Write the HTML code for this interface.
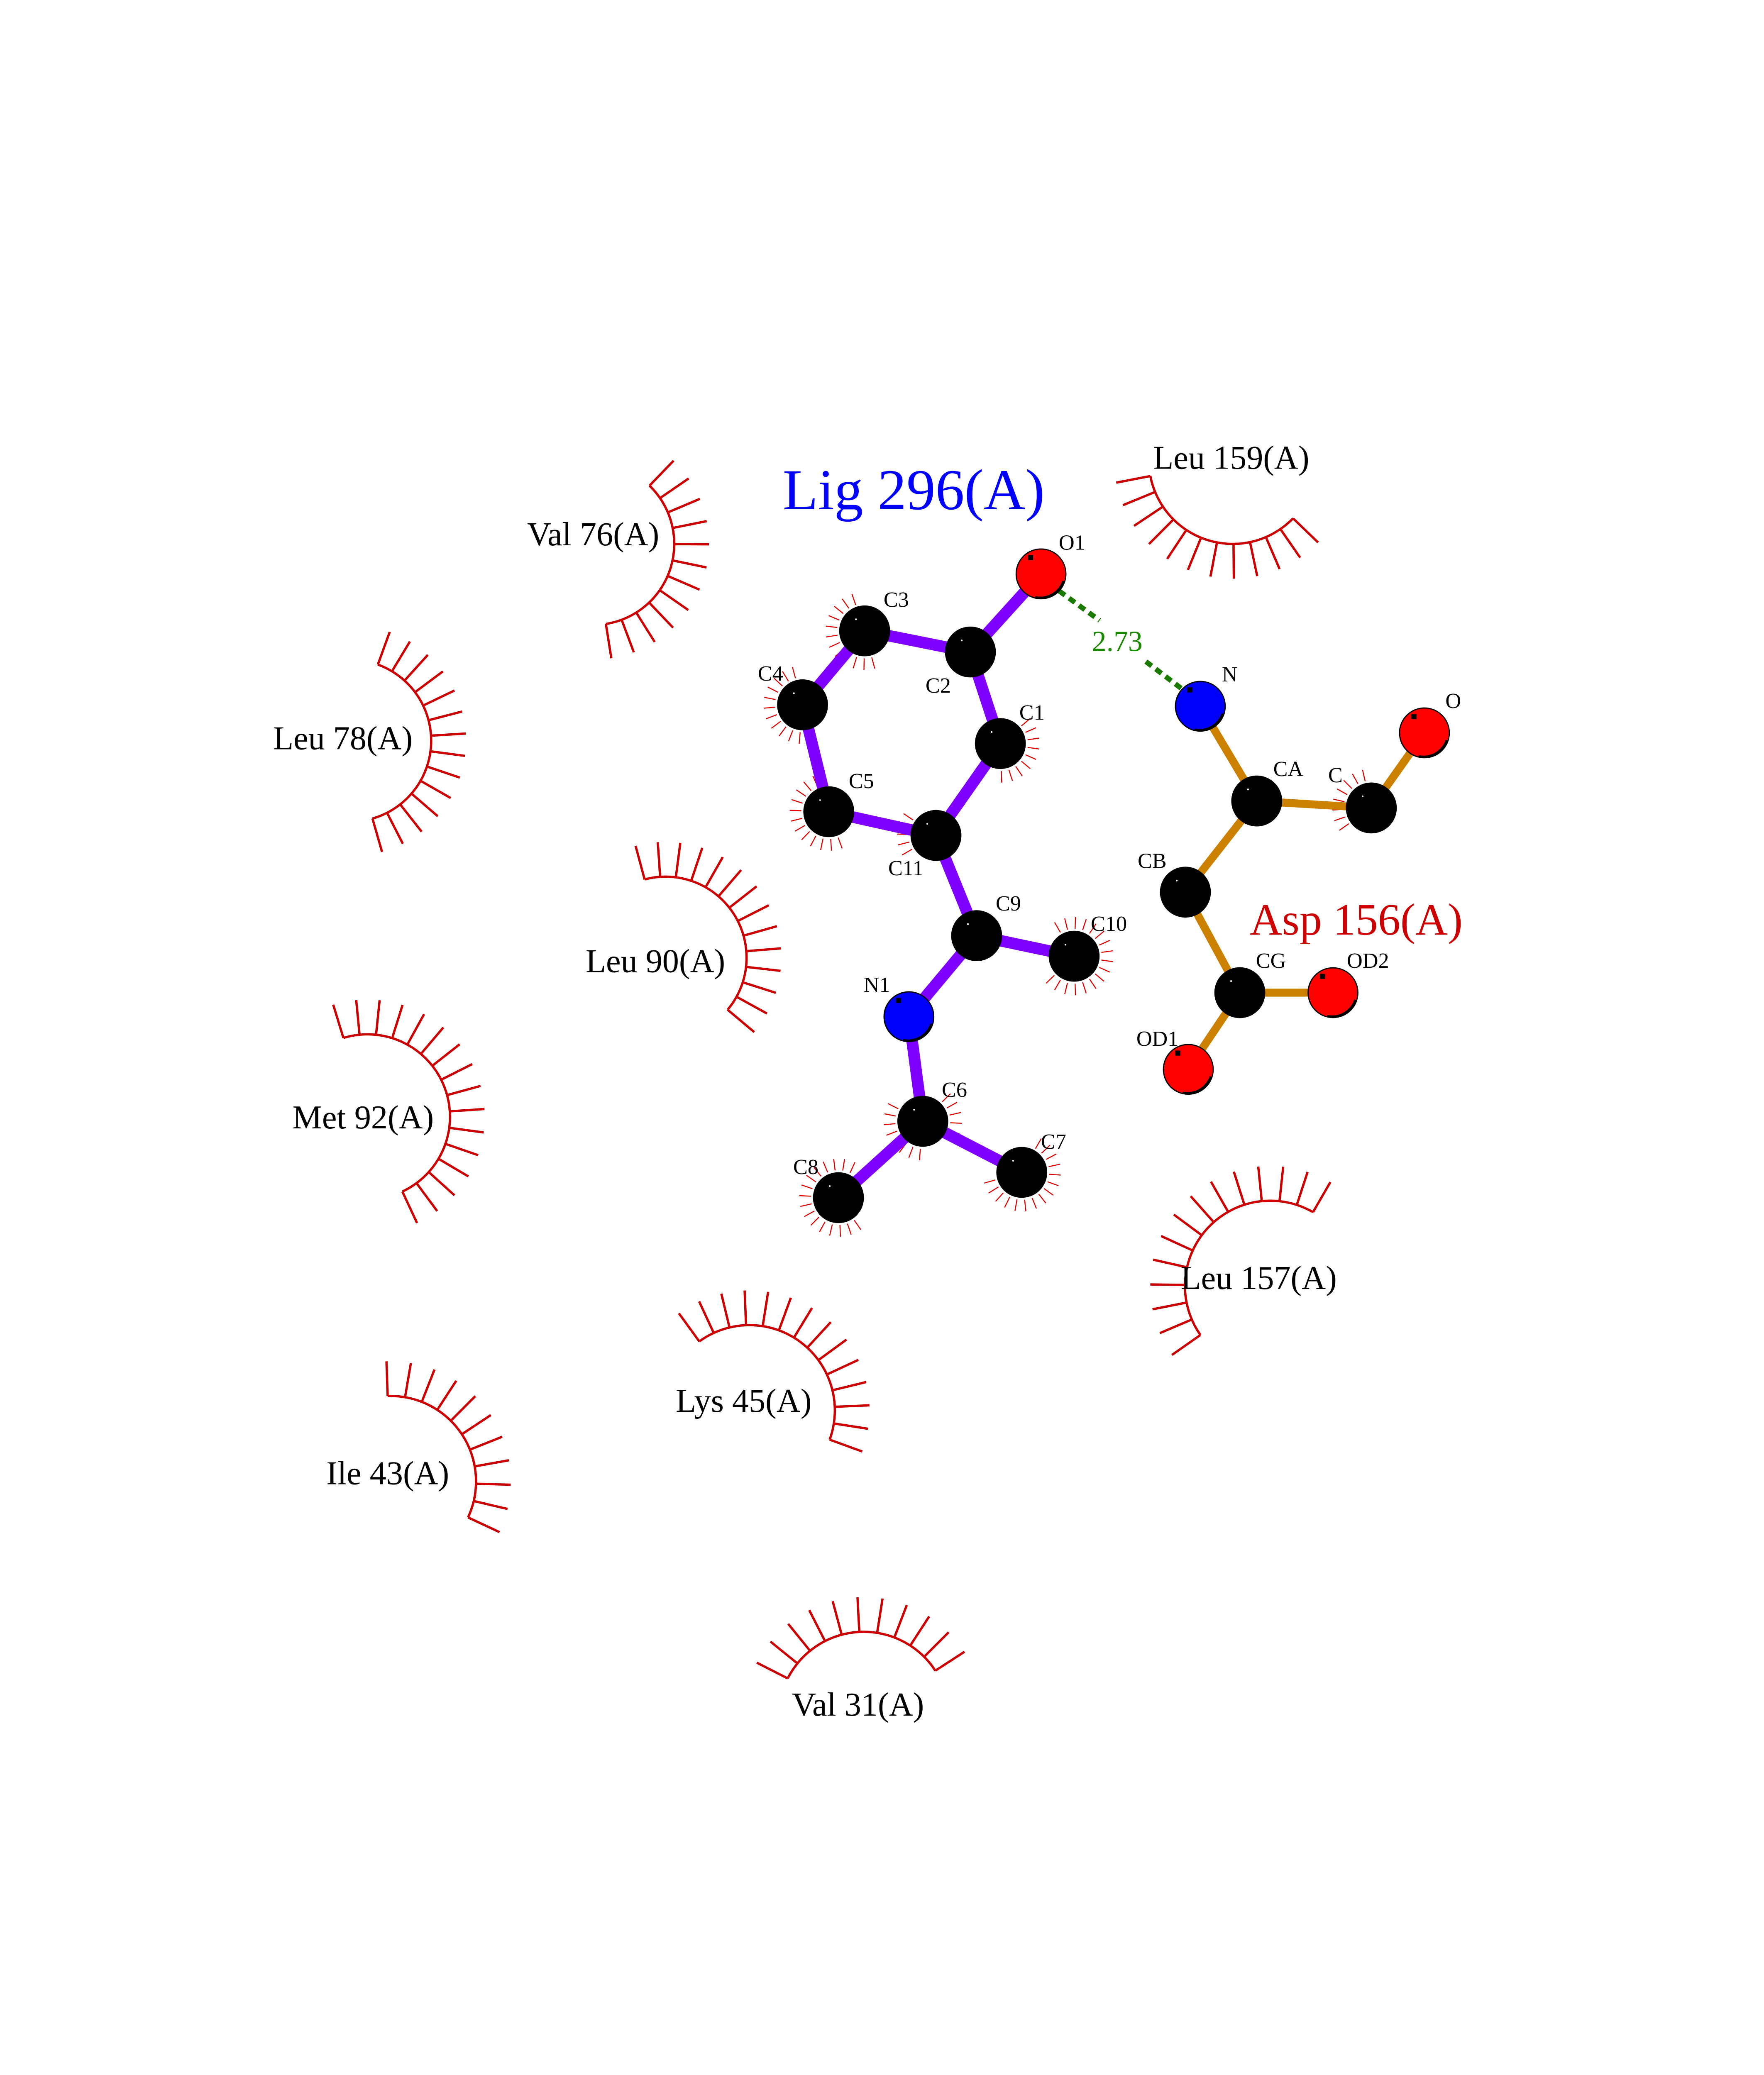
<!DOCTYPE html>
<html><head><meta charset="utf-8">
<style>
html,body{margin:0;padding:0;background:#fff;width:4250px;height:5500px;overflow:hidden;}
svg{display:block;position:absolute;left:0;top:0;}
text{font-family:"Liberation Serif",serif;}
</style></head>
<body>
<svg id="s" xmlns="http://www.w3.org/2000/svg" width="4250" height="5500" viewBox="0 0 1219.2 1577.8">
<rect width="1219.2" height="1577.8" fill="#fff"/>
<g id="arcs" stroke="#cc0000" stroke-width="1.6" fill="none"></g>
<g id="aspokes" stroke="#e00000" stroke-width="0.7" fill="none"></g>
<g id="bonds" stroke-linecap="butt">
<g stroke="#8000ff" stroke-width="8">
<line x1="719.5" y1="396.7" x2="670.7" y2="450.7"/>
<line x1="670.7" y1="450.7" x2="597.6" y2="436.1"/>
<line x1="670.7" y1="450.7" x2="691.4" y2="514"/>
<line x1="597.6" y1="436.1" x2="554.7" y2="487.2"/>
<line x1="554.7" y1="487.2" x2="572.8" y2="561.1"/>
<line x1="572.8" y1="561.1" x2="646.9" y2="577.5"/>
<line x1="691.4" y1="514" x2="646.9" y2="577.5"/>
<line x1="646.9" y1="577.5" x2="675" y2="646.8"/>
<line x1="675" y1="646.8" x2="742.4" y2="661"/>
<line x1="675" y1="646.8" x2="628.2" y2="702.8"/>
<line x1="628.2" y1="702.8" x2="637.8" y2="775.1"/>
<line x1="637.8" y1="775.1" x2="706.2" y2="810.4"/>
<line x1="637.8" y1="775.1" x2="579.5" y2="827.9"/>
</g>
<g stroke="#cc8000" stroke-width="5.5">
<line x1="829.6" y1="488.2" x2="868.6" y2="553.7"/>
<line x1="868.6" y1="553.7" x2="947.8" y2="558.5"/>
<line x1="947.8" y1="558.5" x2="984.5" y2="506.6"/>
<line x1="868.6" y1="553.7" x2="819.3" y2="616.7"/>
<line x1="819.3" y1="616.7" x2="856.9" y2="686.2"/>
<line x1="856.9" y1="686.2" x2="921.3" y2="686.2"/>
<line x1="856.9" y1="686.2" x2="821.3" y2="739.2"/>
</g>
<g stroke="#1a7a00" stroke-width="3.5" stroke-dasharray="5,3.5">
<line x1="732" y1="408.5" x2="760" y2="428.9"/>
<line x1="792" y1="457.3" x2="818.7" y2="477.6"/>
</g>
</g>
<g id="atoms" stroke="#000" stroke-width="0.8"></g>
<g font-size="15" fill="#000">
<text x="731.8" y="380">O1</text>
<text x="610.7" y="419.4">C3</text>
<text x="639.7" y="478.8">C2</text>
<text x="523.8" y="470.4">C4</text>
<text x="704.5" y="497.4">C1</text>
<text x="586.6" y="544.7">C5</text>
<text x="613.9" y="605">C11</text>
<text x="688.2" y="629.4">C9</text>
<text x="753.9" y="643.4">C10</text>
<text x="596.9" y="685.6">N1</text>
<text x="650.9" y="758.2">C6</text>
<text x="719.4" y="794">C7</text>
<text x="548.2" y="811.5">C8</text>
<text x="844.5" y="471">N</text>
<text x="999" y="489.4">O</text>
<text x="880" y="536.4">CA</text>
<text x="918" y="540.7">C</text>
<text x="786.3" y="600">CB</text>
<text x="868" y="669">CG</text>
<text x="930.9" y="669">OD2</text>
<text x="785.4" y="722.9">OD1</text>
</g>
<text x="754.7" y="450" font-size="20" fill="#1a8a00">2.73</text>
<text x="541" y="352" font-size="40" fill="#0000ff">Lig 296(A)</text>
<text x="863.7" y="646" font-size="31" fill="#cc0000">Asp 156(A)</text>
<g font-size="23" fill="#000" text-anchor="middle">
<text x="410" y="377">Val 76(A)</text>
<text x="851" y="324">Leu 159(A)</text>
<text x="237" y="518">Leu 78(A)</text>
<text x="453" y="672">Leu 90(A)</text>
<text x="251" y="780">Met 92(A)</text>
<text x="870" y="891">Leu 157(A)</text>
<text x="514" y="976">Lys 45(A)</text>
<text x="268" y="1026">Ile 43(A)</text>
<text x="593" y="1186">Val 31(A)</text>
</g>
<circle cx="59.7" cy="1478.2" r="1.1" fill="#000"/>
</svg>
<script>
(function(){
var NS="http://www.w3.org/2000/svg";
function el(p,n,a){var e=document.createElementNS(NS,n);for(var k in a)e.setAttribute(k,a[k]);p.appendChild(e);return e;}
var R=Math.PI/180;
var arcs=document.getElementById('arcs');
var A=[
[410,376,56,-46,81],
[852,318,58,44,169],
[242,512,56,-70,74],
[460,662,56,-105,40],
[254,772,57,-107,65],
[878,889,59,145,300],
[518,975,59,-126,20],
[270,1024,59,-92,25],
[597,1187,59,-153,-33]
];
A.forEach(function(a){
 var cx=a[0],cy=a[1],r=a[2],a1=a[3],a2=a[4];
 var x1=cx+r*Math.cos(a1*R),y1=cy+r*Math.sin(a1*R),x2=cx+r*Math.cos(a2*R),y2=cy+r*Math.sin(a2*R);
 var large=(a2-a1)>180?1:0;
 el(arcs,'path',{d:'M'+x1+' '+y1+' A'+r+' '+r+' 0 '+large+' 1 '+x2+' '+y2});
 var n=Math.round((a2-a1)/11.5);
 for(var i=0;i<=n;i++){var t=(a1+(a2-a1)*i/n)*R;
  el(arcs,'line',{x1:cx+r*Math.cos(t),y1:cy+r*Math.sin(t),x2:cx+(r+24)*Math.cos(t),y2:cy+(r+24)*Math.sin(t)});}
});
var sp=document.getElementById('aspokes');
var S=[
[597.6,436.1,[[75,260]]],
[554.7,487.2,[[95,255]]],
[572.8,561.1,[[70,250]]],
[646.9,577.5,[[150,215]]],
[691.4,514,[[-40,100]]],
[742.4,661,[[-120,150]]],
[637.8,775.1,[[95,215],[-45,25]]],
[706.2,810.4,[[-60,175]]],
[579.5,827.9,[[55,295]]],
[947.8,558.5,[[145,265]]]
];
S.forEach(function(s){s[2].forEach(function(rg){
 for(var a=rg[0];a<=rg[1];a+=16){var t=a*R;
  el(sp,'line',{x1:s[0]+19*Math.cos(t),y1:s[1]+19*Math.sin(t),x2:s[0]+27*Math.cos(t),y2:s[1]+27*Math.sin(t)});}
});});
var at=document.getElementById('atoms');
var P=[
[719.5,396.7,'#ff0000'],[670.7,450.7,'#000'],[597.6,436.1,'#000'],[554.7,487.2,'#000'],
[691.4,514,'#000'],[572.8,561.1,'#000'],[646.9,577.5,'#000'],[675,646.8,'#000'],
[742.4,661,'#000'],[628.2,702.8,'#0000ff'],[637.8,775.1,'#000'],[706.2,810.4,'#000'],
[579.5,827.9,'#000'],[829.6,488.2,'#0000ff'],[984.5,506.6,'#ff0000'],[868.6,553.7,'#000'],
[947.8,558.5,'#000'],[819.3,616.7,'#000'],[856.9,686.2,'#000'],[921.3,686.2,'#ff0000'],[821.3,739.2,'#ff0000']
];
P.forEach(function(p){
 el(at,'circle',{cx:p[0],cy:p[1],r:17.2,fill:p[2]});
 if(p[2]!='#000'){el(at,'path',{d:'M'+(p[0]-4)+' '+(p[1]+16.2)+' A17 17 0 0 0 '+(p[0]+15.5)+' '+(p[1]+5),fill:'none',stroke:'#000','stroke-width':1.6});
  el(at,'rect',{x:p[0]-9,y:p[1]-13,width:3.5,height:3.5,fill:'#000',stroke:'none'});}
 else{el(at,'circle',{cx:p[0]-6,cy:p[1]-8,r:0.6,fill:'#fff',stroke:'none'});}
});
})();
</script>
</body></html>
